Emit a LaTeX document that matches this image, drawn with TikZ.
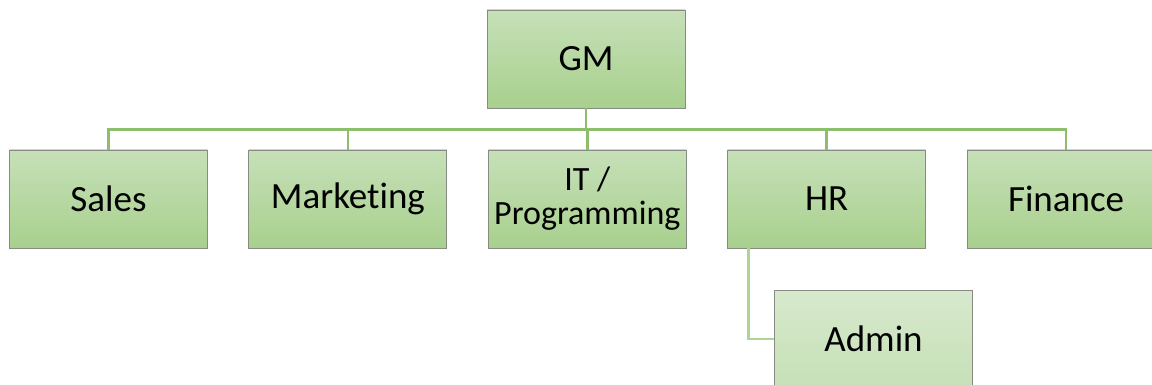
\documentclass[tikz,border=0pt]{standalone}
\usepackage{fontspec}
\setmainfont{Carlito}[Ligatures=NoCommon]
\usepackage{tikz}
\usetikzlibrary{positioning,calc}
\definecolor{hojaA}{RGB}{198,224,184}
\definecolor{hojaB}{RGB}{168,208,141}
\definecolor{claroA}{RGB}{215,233,205}
\definecolor{claroB}{RGB}{198,224,183}
\definecolor{borde}{RGB}{135,140,130}
\definecolor{rama}{RGB}{140,190,108}
\definecolor{ramac}{RGB}{175,212,152}
\tikzset{
  cargo/.style={draw=borde, line width=0.9pt, top color=hojaA, bottom color=hojaB,
    minimum width=198pt, minimum height=98pt, align=center, inner sep=2pt,
    font=\fontsize{37}{38}\selectfont},
  cargoc/.style={cargo, top color=claroA, bottom color=claroB},
  rm/.style={draw=rama, line width=2.6pt},
  rmc/.style={draw=ramac, line width=2.6pt},
}
\begin{document}
\begin{tikzpicture}[x=1pt, y=-1pt, node distance=40.5pt]
  \useasboundingbox (0,0) rectangle (1152,385);
  \node[cargo] (gm) at (586,59) {GM};
  \node[cargo] (sales) at (108.5,199) {Sales};
  \node[cargo, right=of sales] (mkt) {Marketing};
  \node[cargo, right=of mkt, font=\fontsize{34}{34}\selectfont] (it) {IT /\\Programming};
  \node[cargo, right=of it] (hr) {HR};
  \node[cargo, right=of hr] (fin) {Finance};
  \node[cargoc] (adm) at (873.5,339) {Admin};
  % ramas
  \foreach \d in {sales,mkt,it,hr,fin}
    \draw[rm] (gm.south) -- ++(0,21) -| (\d.north);
  \draw[rmc] ([xshift=21pt]hr.south west) |- (adm.west);
\end{tikzpicture}
\end{document}
